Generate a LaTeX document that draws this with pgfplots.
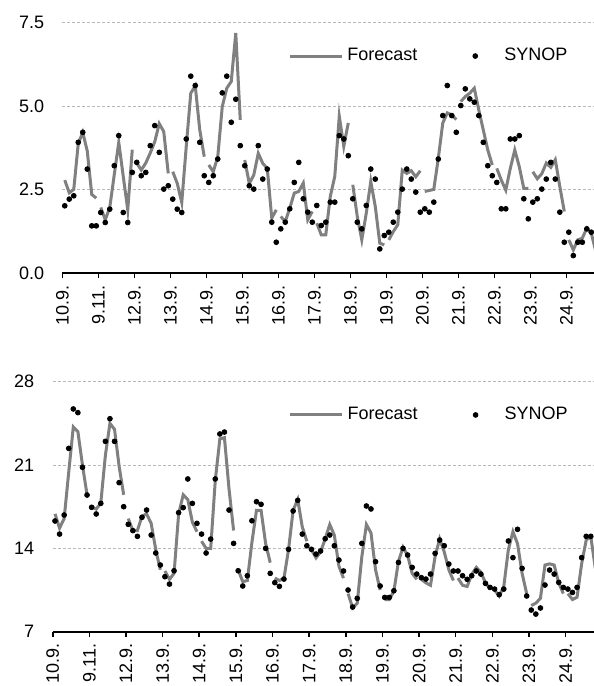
\documentclass[border=0pt]{standalone}
\usepackage{fontspec}
\setmainfont{Liberation Sans}
\usepackage{pgfplots}
\usepackage{pgfplotstable}
\pgfplotsset{compat=1.18}

% 3-hourly values, one forecast run per 8 steps (nan rows break the line)
\pgfplotstableread{
i fc obs
0 2.79 2.02
1 2.41 2.22
2 2.51 2.32
3 3.88 3.92
4 4.22 4.22
5 3.66 3.12
6 2.36 1.42
7 2.25 1.42
7.5 nan nan
8 1.97 1.82
9 1.60 1.52
10 1.97 1.92
11 2.95 3.22
12 3.92 4.12
13 2.90 1.82
14 1.90 1.52
15 3.70 3.02
15.5 nan nan
16 3.30 3.32
17 3.09 2.92
18 3.30 3.02
19 3.60 3.82
20 3.94 4.42
21 4.48 3.62
22 4.24 2.52
23 2.99 2.62
23.5 nan nan
24 3.04 2.22
25 2.69 1.92
26 2.12 1.82
27 3.80 4.02
28 5.39 5.90
29 5.61 5.62
30 4.29 3.92
31 3.49 2.92
31.5 nan nan
32 3.24 2.72
33 3.04 2.92
34 3.49 3.42
35 4.99 5.40
36 5.54 5.90
37 5.74 4.52
38 7.19 5.21
39 4.59 3.82
39.5 nan nan
40 3.39 3.22
41 2.69 2.62
42 2.94 2.52
43 3.59 3.82
44 3.29 2.82
45 3.14 3.12
46 1.65 1.53
47 1.90 0.93
47.5 nan nan
48 1.70 1.33
49 1.55 1.53
50 1.95 1.93
51 2.40 2.72
52 2.45 3.32
53 2.70 2.23
54 1.60 1.83
55 1.85 1.53
55.5 nan nan
56 1.50 2.03
57 1.15 1.43
58 1.15 1.53
59 2.30 2.13
60 2.90 2.13
61 4.70 4.12
62 3.80 4.02
63 4.50 3.52
63.5 nan nan
64 2.65 2.23
65 1.70 1.53
66 1.00 1.33
67 1.80 2.03
68 2.75 3.12
69 2.00 2.82
70 0.90 0.73
71 0.85 1.13
71.5 nan nan
72 1.00 1.23
73 1.25 1.53
74 1.45 1.83
75 3.09 2.52
76 2.99 3.12
77 3.07 2.82
78 2.89 2.43
79 3.07 1.83
79.5 nan nan
80 2.45 1.93
81 2.48 1.83
82 2.51 2.13
83 3.44 3.42
84 4.50 4.72
85 4.80 5.62
86 4.74 4.72
87 4.60 4.22
87.5 nan nan
88 5.14 5.02
89 5.29 5.52
90 5.39 5.22
91 5.54 5.12
92 4.89 4.72
93 4.29 3.92
94 3.69 3.22
95 3.24 2.92
95.5 nan nan
96 3.14 2.72
97 2.79 1.93
98 2.49 1.93
99 3.14 4.02
100 3.69 4.02
101 3.19 4.12
102 2.54 2.23
103 2.54 1.63
103.5 nan nan
104 3.04 2.13
105 2.83 2.23
106 2.98 2.52
107 3.30 2.82
108 3.17 3.32
109 3.40 2.82
110 2.60 1.83
111 1.85 0.93
111.5 nan nan
112 1.00 1.23
113 0.70 0.53
114 1.00 0.93
115 1.05 0.93
116 1.35 1.33
117 1.20 1.23
118 0.65 nan
}\topdata

\pgfplotstableread{
i fc obs
0 16.9 16.30
1 15.7 15.20
2 16.5 16.80
3 20.4 22.40
4 24.2 25.71
5 23.8 25.40
6 21.0 20.81
7 18.5 18.48
7.5 nan nan
8 17.5 17.45
9 17.3 16.89
10 17.8 17.78
11 21.8 22.99
12 24.5 24.89
13 24.0 22.99
14 20.9 19.52
15 18.5 17.50
15.5 nan nan
16 16.5 16.02
17 15.5 15.49
18 15.5 15.01
19 16.7 16.61
20 16.9 17.22
21 16.1 15.12
22 13.9 13.61
23 12.2 12.60
23.5 nan nan
24 12.1 11.62
25 11.4 11.00
26 11.9 12.12
27 16.9 17.00
28 18.5 17.42
29 18.1 19.83
30 16.2 17.78
31 15.4 16.10
31.5 nan nan
32 14.6 15.20
33 14.0 13.61
34 14.0 14.78
35 19.7 19.83
36 23.2 23.61
37 23.3 23.77
38 19.0 17.22
39 15.5 14.42
39.5 nan nan
40 12.2 12.12
41 11.2 10.84
42 11.3 11.70
43 14.5 16.32
44 17.2 17.92
45 17.2 17.70
46 14.4 14.00
47 12.8 11.90
47.5 nan nan
48 11.5 11.12
49 11.3 10.81
50 11.5 11.42
51 13.9 13.92
52 17.2 17.14
53 18.1 18.03
54 15.8 15.20
55 14.6 14.22
55.5 nan nan
56 13.9 13.92
57 13.2 13.52
58 13.7 13.78
59 14.8 14.81
60 16.0 15.12
61 15.1 14.22
62 12.5 13.02
63 11.5 12.10
63.5 nan nan
64 10.2 10.50
65 9.0 9.07
66 9.4 9.80
67 13.3 14.42
68 16.0 17.56
69 15.3 17.31
70 12.2 12.88
71 10.5 10.84
71.5 nan nan
72 9.7 9.88
73 9.7 9.88
74 10.4 10.44
75 12.9 12.82
76 14.1 14.00
77 13.4 13.44
78 11.9 12.40
79 11.4 11.84
79.5 nan nan
80 11.4 11.54
81 11.1 11.42
82 10.9 11.84
83 13.3 13.58
84 14.8 14.70
85 13.7 14.22
86 12.2 12.68
87 11.3 12.10
87.5 nan nan
88 11.5 12.10
89 10.9 11.70
90 10.8 11.40
91 11.8 11.70
92 12.4 12.10
93 12.0 11.84
94 11.1 11.06
95 10.6 10.72
95.5 nan nan
96 10.5 10.58
97 10.0 10.11
98 10.8 10.58
99 13.9 14.62
100 15.4 13.22
101 14.4 15.60
102 11.9 12.32
103 10.2 10.00
103.5 nan nan
104 9.2 8.82
105 9.4 8.48
106 9.8 8.99
107 12.6 10.92
108 12.7 12.18
109 12.6 11.84
110 11.1 11.14
111 10.2 10.72
111.5 nan nan
112 10.2 10.58
113 9.7 10.30
114 9.9 10.72
115 12.7 13.22
116 14.7 15.01
117 15.0 15.01
118 12.3 nan
}\botdata

\pgfplotsset{
  panel/.style={
    scale only axis,
    anchor=south west,
    xmin=-0.5,
    axis x line*=bottom, axis y line*=left,
    y axis line style={draw=none},
    x axis line style={line width=1pt},
    ytick style={draw=none},
    xtick style={black, line width=0.8pt},
    tick align=outside,
    major tick length=2.5pt,
    xtick={-0.5,7.5,...,111.5},
    xticklabels={10.9.,9.11.,12.9.,13.9.,14.9.,15.9.,16.9.,17.9.,18.9.,19.9.,20.9.,21.9.,22.9.,23.9.,24.9.},
    xticklabel style={rotate=90, anchor=east},
    yticklabel style={xshift=-3.2pt},
    ymajorgrids,
    grid style={gray!55, dash pattern=on 1.5pt off 1pt, line width=0.5pt},
    tick label style={font=\fontsize{9}{10}\selectfont},
    unbounded coords=jump,
    legend style={anchor=west, draw=none, fill=none, inner sep=0pt,
      font=\fontsize{9}{10}\selectfont, legend columns=2,
      /tikz/every even column/.append style={column sep=25.8pt}},
  },
  fc/.style={color=gray, line width=1.5pt, no marks,
    legend image code/.code={\draw[##1] (0pt,0pt) -- (26pt,0pt);}},
  obs/.style={only marks, mark=*, mark size=1.2pt, black,
    legend image code/.code={\path[draw=none, fill=none] (0pt,0pt) rectangle (12.5pt,0.1pt);
      \draw[##1] plot coordinates {(0pt,0pt)};}},
}

\begin{document}
\begin{tikzpicture}
\useasboundingbox (0,0) rectangle (297pt,343pt);

\begin{axis}[panel,
  at={(31.25pt,206.35pt)}, width=265.75pt, height=125.3pt,
  xmax=117.6, ymin=0, ymax=7.5,
  ytick={0,2.5,5,7.5}, yticklabels={0.0,2.5,5.0,7.5},
  legend style={at={(0.424,0.867)}}]
\addplot[fc] table[x=i, y=fc] {\topdata};
\addlegendentry{Forecast}
\addplot[obs] table[x=i, y=obs] {\topdata};
\addlegendentry{SYNOP}
\end{axis}

\begin{axis}[panel,
  at={(26.35pt,27.15pt)}, width=270.65pt, height=125pt,
  xmax=117.7, ymin=7, ymax=28,
  ytick={7,14,21,28}, yticklabels={7,14,21,28},
  legend style={at={(0.435,0.867)}}]
\addplot[fc] table[x=i, y=fc] {\botdata};
\addlegendentry{Forecast}
\addplot[obs] table[x=i, y=obs] {\botdata};
\addlegendentry{SYNOP}
\end{axis}
\end{tikzpicture}
\end{document}
